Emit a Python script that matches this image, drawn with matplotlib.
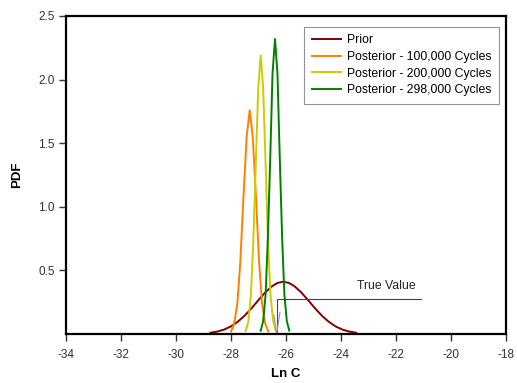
import matplotlib
matplotlib.use('Agg')
import matplotlib.pyplot as plt

plt.rcParams['font.family'] = 'Liberation Sans'

# Prior and posterior densities
prior_x = [-28.75, -28.5, -28.25, -28.0, -27.75, -27.5, -27.25, -27.0, -26.75, -26.5, -26.3,
           -26.1, -25.9, -25.7, -25.45, -25.2, -24.95, -24.7, -24.45, -24.2, -23.95, -23.7, -23.45]
prior_y = [0.010, 0.019, 0.035, 0.060, 0.097, 0.145, 0.203, 0.267, 0.328, 0.377, 0.402,
           0.411, 0.402, 0.377, 0.328, 0.267, 0.203, 0.145, 0.097, 0.060, 0.035, 0.019, 0.010]

post100_x = [-28.00, -27.89, -27.77, -27.66, -27.55, -27.43, -27.32,
             -27.21, -27.09, -26.98, -26.87, -26.75, -26.64]
post100_y = [0.020, 0.077, 0.238, 0.571, 1.067, 1.553, 1.760,
             1.553, 1.067, 0.571, 0.238, 0.077, 0.020]

post200_x = [-27.47, -27.37, -27.28, -27.19, -27.10, -27.01, -26.92,
             -26.83, -26.74, -26.65, -26.56, -26.46, -26.37]
post200_y = [0.024, 0.096, 0.296, 0.711, 1.328, 1.933, 2.190,
             1.933, 1.328, 0.711, 0.296, 0.096, 0.024]

post298_x = [-26.92, -26.83, -26.74, -26.66, -26.57, -26.49, -26.40,
             -26.31, -26.23, -26.14, -26.06, -25.97, -25.88]
post298_y = [0.026, 0.102, 0.314, 0.753, 1.407, 2.047, 2.320,
             2.047, 1.407, 0.753, 0.314, 0.102, 0.026]

true_value = -26.34
label_y = 0.275
label_end = -21.08

x_ticks = [-34, -32, -30, -28, -26, -24, -22, -20, -18]
y_ticks = [0.5, 1.0, 1.5, 2.0, 2.5]

fig = plt.figure(figsize=(5.17, 3.83), dpi=100)
ax = fig.add_axes([66/517, 49/383, 440/517, 318/383])

ax.plot(prior_x, prior_y, color='#800000', lw=1.4, label='Prior')
ax.plot(post100_x, post100_y, color='#FF8000', lw=1.4, label='Posterior - 100,000 Cycles')
ax.plot(post200_x, post200_y, color='#CCCC00', lw=1.4, label='Posterior - 200,000 Cycles')
ax.plot(post298_x, post298_y, color='#008000', lw=1.4, label='Posterior - 298,000 Cycles')

# true value marker
ax.plot([true_value, true_value, label_end], [0, label_y, label_y], color='#444444', lw=0.8)
ax.plot([true_value - 0.1, true_value, true_value + 0.12], [0.15, 0, 0.17], color='#999999', lw=0.8)
ax.text(-22.36, 0.33, 'True Value', fontsize=8.8, ha='center', va='bottom', color='#222222')

ax.set_xlim(-34, -18)
ax.set_ylim(0, 2.5)
ax.set_xticks(x_ticks)
ax.set_xticklabels([str(t) for t in x_ticks])
ax.set_yticks(y_ticks)
ax.set_yticklabels(['%.1f' % t for t in y_ticks])
ax.tick_params(labelsize=8.5, length=5, width=1, colors='#333333', direction='out')
ax.tick_params(axis='x', pad=6)
ax.tick_params(axis='y', pad=3)
for s in ax.spines.values():
    s.set_linewidth(1.6)
ax.set_xlabel('Ln C', fontsize=9.5, fontweight='bold', labelpad=5)
ax.set_ylabel('PDF', fontsize=9.5, fontweight='bold', labelpad=11)

leg = ax.legend(loc='upper right', bbox_to_anchor=(0.984, 0.965), fontsize=8.8,
                frameon=True, fancybox=False, handlelength=2.4, borderpad=0.6,
                labelspacing=0.38, handletextpad=0.5, borderaxespad=0)
leg.get_frame().set_edgecolor('#777777')
leg.get_frame().set_linewidth(0.8)

fig.savefig('out.png', dpi=100)
